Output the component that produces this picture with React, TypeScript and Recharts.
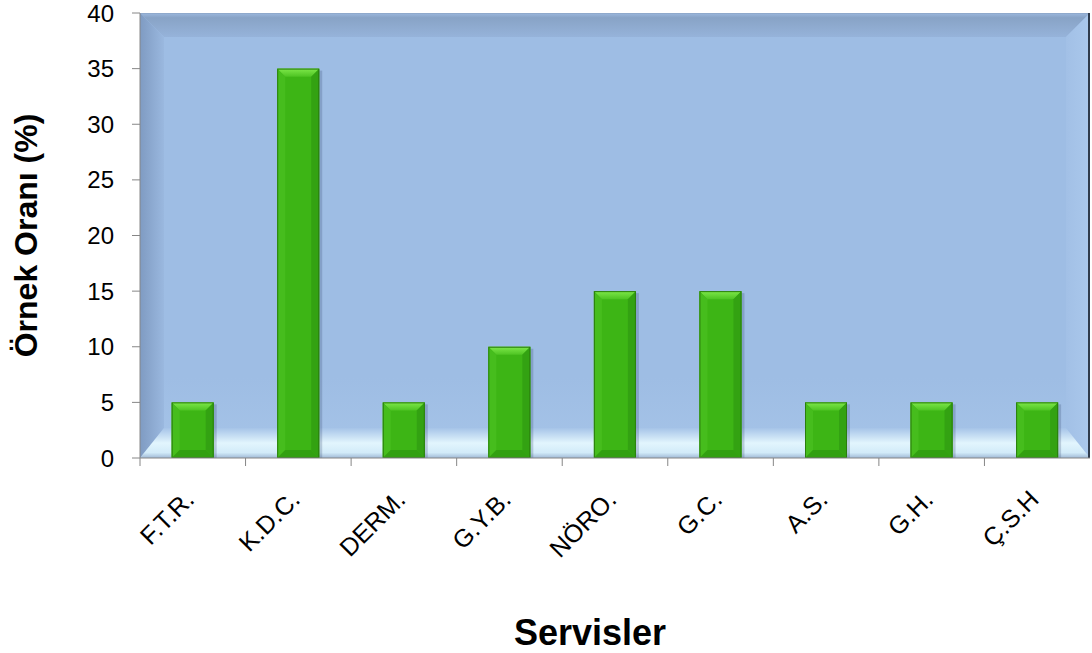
import React from "react";
import { BarChart, Bar, XAxis, YAxis, ReferenceArea } from "recharts";

// Servis bazında örnek oranları (%)
const services = ["F.T.R.", "K.D.C.", "DERM.", "G.Y.B.", "NÖRO.", "G.C.", "A.S.", "G.H.", "Ç.S.H"];
const rates = [5, 35, 5, 10, 15, 15, 5, 5, 5];
const yTicks = [0, 5, 10, 15, 20, 25, 30, 35, 40];

const data = services.map((name, i) => ({ name, rate: rates[i] }));

const FONT = "Arial, 'Liberation Sans', sans-serif";
const AXIS_GRAY = "#868686";

// Kabartmalı mavi çizim alanı arka planı
const PlotFrame = (props: any) => {
  const { x, y, width: w, height: h } = props;
  const b = 24;
  const bb = 30;
  return (
    <g>
      <defs>
        <linearGradient id="frameTop" x1="0" y1="0" x2="0" y2="1">
          <stop offset="0%" stopColor="#9cb8de" />
          <stop offset="20%" stopColor="#88a3c6" />
          <stop offset="100%" stopColor="#96b3da" />
        </linearGradient>
        <linearGradient id="frameLeft" x1="0" y1="0" x2="1" y2="0">
          <stop offset="0%" stopColor="#7f9bc2" />
          <stop offset="100%" stopColor="#9ab8df" />
        </linearGradient>
        <linearGradient id="frameRight" x1="0" y1="0" x2="1" y2="0">
          <stop offset="0%" stopColor="#a2c0e6" />
          <stop offset="100%" stopColor="#aac8ec" />
        </linearGradient>
        <linearGradient id="frameBottom" x1="0" y1="0" x2="0" y2="1">
          <stop offset="0%" stopColor="#a6c4e8" />
          <stop offset="50%" stopColor="#e2f5fd" />
          <stop offset="82%" stopColor="#d2ebf9" />
          <stop offset="100%" stopColor="#9fb9d6" />
        </linearGradient>
        <linearGradient id="frameFill" x1="0" y1="0" x2="0" y2="1">
          <stop offset="0%" stopColor="#9ebde4" />
          <stop offset="82%" stopColor="#9ebde4" />
          <stop offset="100%" stopColor="#a6c4e8" />
        </linearGradient>
      </defs>
      <rect x={x} y={y} width={w} height={h} fill="url(#frameFill)" />
      <polygon points={`${x},${y} ${x + w},${y} ${x + w - b},${y + b} ${x + b},${y + b}`} fill="url(#frameTop)" />
      <polygon points={`${x},${y} ${x + b},${y + b} ${x + b},${y + h - bb} ${x},${y + h}`} fill="url(#frameLeft)" />
      <polygon points={`${x + w},${y} ${x + w},${y + h} ${x + w - b},${y + h - bb} ${x + w - b},${y + b}`} fill="url(#frameRight)" />
      <polygon points={`${x},${y + h} ${x + w},${y + h} ${x + w - b},${y + h - bb} ${x + b},${y + h - bb}`} fill="url(#frameBottom)" />
      <line x1={x} y1={y + 0.5} x2={x + w} y2={y + 0.5} stroke="#8fa9cc" />
      <line x1={x + w - 1} y1={y} x2={x + w - 1} y2={y + h} stroke="#2f3b4c" strokeWidth={2} />
    </g>
  );
};

// Kabartmalı yeşil sütun
const BevelBar = (props: any) => {
  const { x, y, width: w, height: h } = props;
  if (!h || h <= 0) return null;
  const e = Math.min(8, h / 3);
  return (
    <g>
      <defs>
        <linearGradient id="barTop" x1="0" y1="0" x2="0" y2="1">
          <stop offset="0%" stopColor="#7ee84a" />
          <stop offset="100%" stopColor="#4ec423" />
        </linearGradient>
      </defs>
      <rect x={x + 3} y={y + 2} width={w} height={h - 2} fill="rgba(40,60,100,0.22)" />
      <rect x={x} y={y} width={w} height={h} fill="#3db515" />
      <polygon points={`${x},${y} ${x + w},${y} ${x + w - e},${y + e} ${x + e},${y + e}`} fill="url(#barTop)" />
      <polygon points={`${x},${y} ${x + e},${y + e} ${x + e},${y + h - e} ${x},${y + h}`} fill="#46bd1d" />
      <polygon points={`${x + w},${y} ${x + w},${y + h} ${x + w - e},${y + h - e} ${x + w - e},${y + e}`} fill="#33a212" />
      <polygon points={`${x},${y + h} ${x + w},${y + h} ${x + w - e},${y + h - e} ${x + e},${y + h - e}`} fill="#32a011" />
      <rect x={x + 0.5} y={y + 0.5} width={w - 1} height={h - 1} fill="none" stroke="#2b7e0d" />
    </g>
  );
};

// Eğik servis etiketi; çentik kategori bandının sol sınırında
const ServiceTick = (props: any) => {
  const { x, y, payload } = props;
  const half = typeof payload.offset === "number" ? payload.offset : 0;
  return (
    <g>
      {half > 0 && <line x1={x - half} y1={y} x2={x - half} y2={y + 8} stroke={AXIS_GRAY} />}
      <g transform={`translate(${x + 3},${y + 43})`}>
        <text textAnchor="end" transform="rotate(-45)" fontSize={25} fill="#000" fontFamily={FONT}>
          {payload.value}
        </text>
      </g>
    </g>
  );
};

const YTitle = (props: any) => {
  const { viewBox } = props;
  const cx = viewBox.x + 37;
  const cy = viewBox.y + viewBox.height / 2;
  return (
    <text
      transform={`translate(${cx},${cy}) rotate(-90)`}
      textAnchor="middle"
      fontSize={32}
      fontWeight="bold"
      fill="#000"
      fontFamily={FONT}
    >
      Örnek Oranı (%)
    </text>
  );
};

const XTitle = (props: any) => {
  const { viewBox } = props;
  return (
    <text
      x={viewBox.x + viewBox.width / 2 - 25}
      y={viewBox.y + 187}
      textAnchor="middle"
      fontSize={36}
      fontWeight="bold"
      fill="#000"
      fontFamily={FONT}
    >
      Servisler
    </text>
  );
};

export default function App() {
  return (
    <div style={{ position: "absolute", left: 0, top: 0, background: "#fff" }}>
      <BarChart
        width={1092}
        height={653}
        data={data}
        margin={{ top: 13, right: 2, left: 0, bottom: 194 }}
        barCategoryGap="30%"
      >
        <ReferenceArea y1={0} y2={40} ifOverflow="visible" shape={<PlotFrame />} />
        <Bar dataKey="rate" shape={<BevelBar />} isAnimationActive={false} />
        <YAxis
          domain={[0, 40]}
          ticks={yTicks}
          width={140}
          axisLine={{ stroke: AXIS_GRAY }}
          tickLine={{ stroke: AXIS_GRAY }}
          tickSize={8}
          tickMargin={18}
          tick={{ fontSize: 24, fill: "#000", fontFamily: FONT }}
          label={<YTitle />}
        />
        <XAxis
          dataKey="name"
          height={1}
          axisLine={{ stroke: AXIS_GRAY }}
          tickLine={false}
          tickSize={0}
          tickMargin={0}
          interval={0}
          tick={<ServiceTick />}
          label={<XTitle />}
        />
      </BarChart>
    </div>
  );
}
